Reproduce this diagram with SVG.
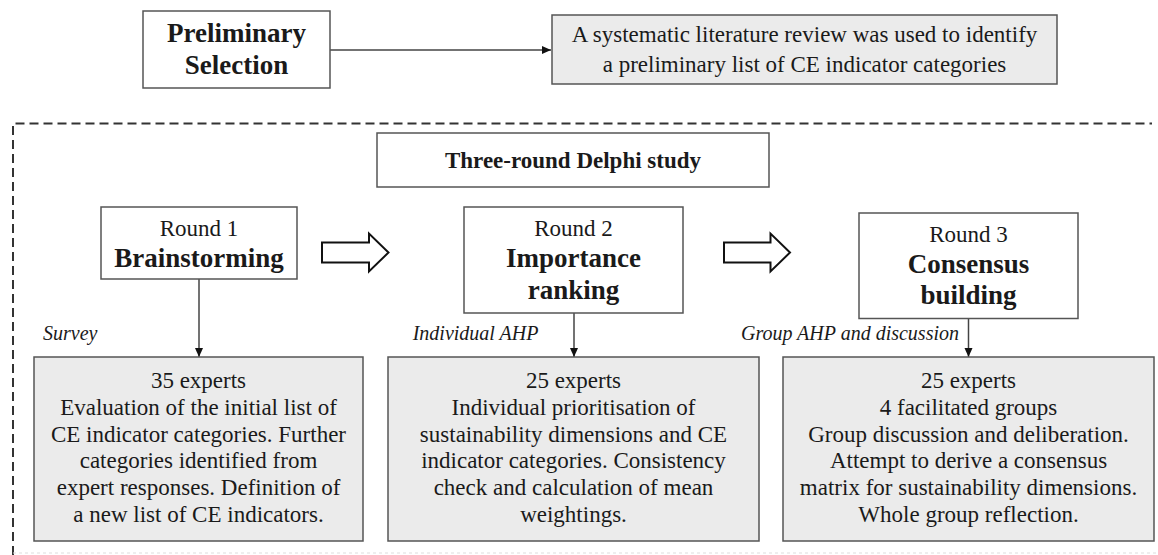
<svg xmlns="http://www.w3.org/2000/svg" width="1158" height="555" viewBox="0 0 1158 555">
<defs>
<style>
.box{fill:#ffffff;stroke:#555555;stroke-width:1.5}
.gbox{fill:#ebebeb;stroke:#555555;stroke-width:1.5}
text{font-family:'Liberation Serif','Times New Roman',Tinos,'DejaVu Serif',serif;fill:#1a1a1a}
.t{text-anchor:middle}
.b{font-weight:bold;font-size:27px}
.r{font-size:23px}
.h{font-weight:bold;font-size:23px}
.i{font-style:italic;font-size:20px}
.line{stroke:#444444;stroke-width:1.5;fill:none}
.hollow{fill:#ffffff;stroke:#111111;stroke-width:2;stroke-linejoin:miter}
.dash{stroke:#333333;stroke-width:2;fill:none;stroke-dasharray:9 5}
</style>
<marker id="ah" markerWidth="10" markerHeight="10" refX="9" refY="4" orient="auto" markerUnits="userSpaceOnUse">
<path d="M0,0 L9,4 L0,8 Z" fill="#111111"/>
</marker>
</defs>
<rect width="1158" height="555" fill="#ffffff"/>

<g id="frame">
<path class="dash" d="M13,555 L13,123.5 L1152,123.5"/>
<path d="M13,553 L1158,553" stroke="#dddddd" stroke-width="1" stroke-dasharray="3 3" fill="none"/>
</g>

<g id="connectors">
<line class="line" x1="330" y1="50" x2="551" y2="50" marker-end="url(#ah)"/>
<line class="line" x1="199" y1="279" x2="199" y2="357" marker-end="url(#ah)"/>
<line class="line" x1="574" y1="313" x2="574" y2="357" marker-end="url(#ah)"/>
<line class="line" x1="968.5" y1="318.5" x2="968.5" y2="357" marker-end="url(#ah)"/>
<polygon class="hollow" points="322,242.5 369,242.5 369,233.5 388.5,252.5 369,271.5 369,262.5 322,262.5"/>
<polygon class="hollow" points="724,242.5 770.5,242.5 770.5,233.5 790,252.5 770.5,271.5 770.5,262.5 724,262.5"/>
<text class="i" x="43" y="340" font-family="Liberation Serif, serif">Survey</text>
<text class="i" x="412.7" y="340" font-family="Liberation Serif, serif">Individual AHP</text>
<text class="i" x="741" y="340" font-family="Liberation Serif, serif">Group AHP and discussion</text>
</g>

<g id="preliminary">
<rect class="box" x="143" y="11" width="187" height="77"/>
<text class="t b" x="236.5" y="42">Preliminary</text>
<text class="t b" x="236.5" y="73.5">Selection</text>
</g>

<g id="review">
<rect class="gbox" x="552" y="15" width="505" height="69"/>
<text class="t r" x="804.5" y="41.7">A systematic literature review was used to identify</text>
<text class="t r" x="804.5" y="71.7">a preliminary list of CE indicator categories</text>
</g>

<g id="delphi">
<rect class="box" x="377" y="133" width="392" height="54"/>
<text class="t h" x="573" y="168">Three-round Delphi study</text>
</g>

<g id="round1">
<rect class="box" x="101" y="207" width="196" height="72"/>
<text class="t r" x="199" y="236">Round 1</text>
<text class="t b" x="199" y="267">Brainstorming</text>
</g>

<g id="round2">
<rect class="box" x="464" y="207" width="219" height="106"/>
<text class="t r" x="573.5" y="236">Round 2</text>
<text class="t b" x="573.5" y="267">Importance</text>
<text class="t b" x="573.5" y="298.5">ranking</text>
</g>

<g id="round3">
<rect class="box" x="859" y="213" width="219" height="105.5"/>
<text class="t r" x="968.5" y="241.7">Round 3</text>
<text class="t b" x="968.5" y="272.7">Consensus</text>
<text class="t b" x="968.5" y="303.5">building</text>
</g>

<g id="detail1">
<rect class="gbox" x="34" y="357" width="329" height="184"/>
<text class="t r" x="198.5" y="388.3">35 experts</text>
<text class="t r" x="198.5" y="415">Evaluation of the initial list of</text>
<text class="t r" x="198.5" y="441.7">CE indicator categories. Further</text>
<text class="t r" x="198.5" y="468.4">categories identified from</text>
<text class="t r" x="198.5" y="495.1">expert responses. Definition of</text>
<text class="t r" x="198.5" y="521.8">a new list of CE indicators.</text>
</g>

<g id="detail2">
<rect class="gbox" x="388" y="357" width="371" height="184"/>
<text class="t r" x="573.5" y="388.3">25 experts</text>
<text class="t r" x="573.5" y="415">Individual prioritisation of</text>
<text class="t r" x="573.5" y="441.7">sustainability dimensions and CE</text>
<text class="t r" x="573.5" y="468.4">indicator categories. Consistency</text>
<text class="t r" x="573.5" y="495.1">check and calculation of mean</text>
<text class="t r" x="573.5" y="521.8">weightings.</text>
</g>

<g id="detail3">
<rect class="gbox" x="783" y="357" width="371" height="184"/>
<text class="t r" x="968.5" y="388.3">25 experts</text>
<text class="t r" x="968.5" y="415">4 facilitated groups</text>
<text class="t r" x="968.5" y="441.7">Group discussion and deliberation.</text>
<text class="t r" x="968.5" y="468.4">Attempt to derive a consensus</text>
<text class="t r" x="968.5" y="495.1">matrix for sustainability dimensions.</text>
<text class="t r" x="968.5" y="521.8">Whole group reflection.</text>
</g>
</svg>
